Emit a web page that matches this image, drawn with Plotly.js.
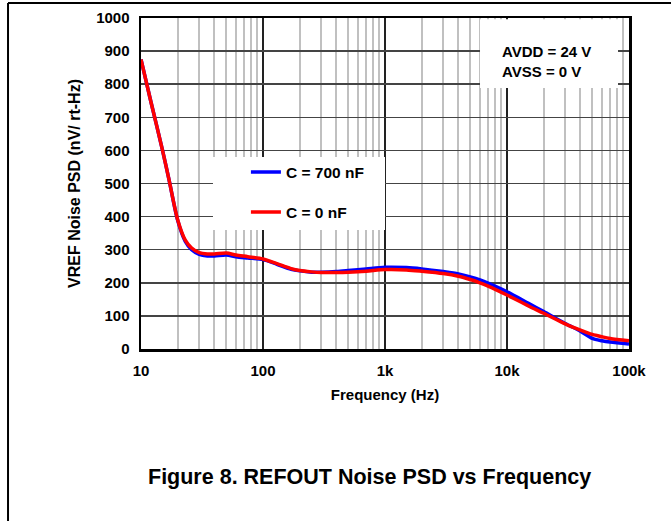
<!DOCTYPE html>
<html>
<head>
<meta charset="utf-8">
<script src="https://cdn.plot.ly/plotly-3.0.1.min.js"></script>
<style>html,body{margin:0;padding:0;background:#fff;}#chart{width:671px;height:521px;}</style>
</head>
<body>
<div id="chart"></div>
<script>
const freq = [10, 12, 15, 17, 20, 23, 26, 30, 35, 40, 50, 60, 75, 100, 130, 170, 200, 250, 300, 400, 500, 700, 1000, 1500, 2000, 3000, 4000, 5000, 6000, 7000, 10000, 15000, 20000, 30000, 40000, 50000, 60000, 70000, 100000];
const c700 = [875, 750, 601, 510, 388, 326, 300, 286, 281, 281, 284, 279, 275, 270, 256, 241, 236, 232, 232, 234, 237, 242, 247, 246, 242, 234, 227, 218, 209, 199, 173, 138, 113, 77, 54, 32, 25, 21, 15];
const c0 = [875, 750, 601, 510, 390, 330, 305, 291, 287, 287, 290, 284, 279, 272, 258, 243, 237, 233, 231, 231, 232, 235, 240, 239, 235, 228, 220, 210, 200, 190, 163, 130, 108, 76, 57, 44, 37, 32, 25];
const seriesNames = ['C = 700 nF', 'C = 0 nF'];
const xTickVals = [10, 100, 1000, 10000, 100000];
const xTickText = ['10', '100', '1k', '10k', '100k'];
const yTickVals = [0, 100, 200, 300, 400, 500, 600, 700, 800, 900, 1000];

const FONT = 'Arial, "Liberation Sans", sans-serif';

const traces = [
  {x: freq, y: c700, name: seriesNames[0], type: 'scatter', mode: 'lines',
   line: {color: '#0000ff', width: 3.5, shape: 'spline', smoothing: 0.8}, legendgroup: 'a'},
  {x: freq, y: c0, name: seriesNames[1], type: 'scatter', mode: 'lines',
   line: {color: '#ff0000', width: 3.5, shape: 'spline', smoothing: 0.8}, legendgroup: 'b'}
];

const layout = {
  width: 671, height: 521,
  margin: {l: 141, r: 42, t: 18, b: 172},
  paper_bgcolor: '#ffffff', plot_bgcolor: '#ffffff',
  font: {family: FONT, size: 15, color: '#000'},
  showlegend: true,
  legend: {x: 0.215, y: 0.585, xanchor: 'left', yanchor: 'top', bgcolor: 'rgba(0,0,0,0)',
           borderwidth: 0, tracegroupgap: 17, font: {family: FONT, size: 15.5, color: '#000', weight: 'bold'}},
  xaxis: {type: 'log', range: [1, 5], tickvals: xTickVals, ticktext: xTickText,
          showgrid: true, gridcolor: '#222', gridwidth: 1.5,
          minor: {showgrid: true, gridcolor: '#c0c0c0', gridwidth: 2, dtick: 'D1', ticks: ''},
          showline: true, linecolor: '#000', linewidth: 2.5, mirror: true, ticks: '', zeroline: false,
          ticklabelstandoff: 6,
          tickfont: {family: FONT, size: 15, weight: 'bold'},
          title: {text: '<b>Frequency (Hz)</b>', font: {family: FONT, size: 15}, standoff: 12}},
  yaxis: {range: [0, 1000], tickvals: yTickVals, showgrid: true, gridcolor: '#444', gridwidth: 1.5,
          showline: true, linecolor: '#000', linewidth: 2.5, mirror: true, ticks: '', zeroline: false,
          ticklabelstandoff: 6,
          tickfont: {family: FONT, size: 15, weight: 'bold'},
          title: {text: '<b>VREF Noise PSD (nV/ rt-Hz)</b>', font: {family: FONT, size: 16}, standoff: 12}},
  shapes: [
    {type: 'rect', xref: 'paper', yref: 'paper', x0: 0.1475, x1: 0.5, y0: 0.3595, y1: 0.58,
     fillcolor: '#fff', line: {width: 0}, layer: 'above'},
    {type: 'rect', xref: 'paper', yref: 'paper', x0: 0.6947, x1: 0.9775, y0: 0.7885, y1: 0.996,
     fillcolor: '#fff', line: {width: 0}, layer: 'above'},
    {type: 'line', xref: 'paper', yref: 'paper', x0: -0.2725, x1: -0.2725, y0: 1.0453, y1: -0.53,
     line: {color: '#000', width: 2}},
    {type: 'line', xref: 'paper', yref: 'paper', x0: -0.2725, x1: 1.1, y0: 1.0453, y1: 1.0453,
     line: {color: '#000', width: 2}}
  ],
  annotations: [
    {xref: 'paper', yref: 'paper', x: 0.736, y: 0.87, xanchor: 'left', yanchor: 'middle', align: 'left',
     showarrow: false, text: '<b>AVDD = 24 V<br>AVSS = 0 V</b>', font: {family: FONT, size: 15}},
    {xref: 'paper', yref: 'paper', x: 0.469, y: -0.386, xanchor: 'center', yanchor: 'middle',
     showarrow: false, text: '<b>Figure 8. REFOUT Noise PSD vs Frequency</b>', font: {family: FONT, size: 21.5}}
  ]
};

Plotly.newPlot('chart', traces, layout, {displayModeBar: false, staticPlot: true});
</script>
</body>
</html>
